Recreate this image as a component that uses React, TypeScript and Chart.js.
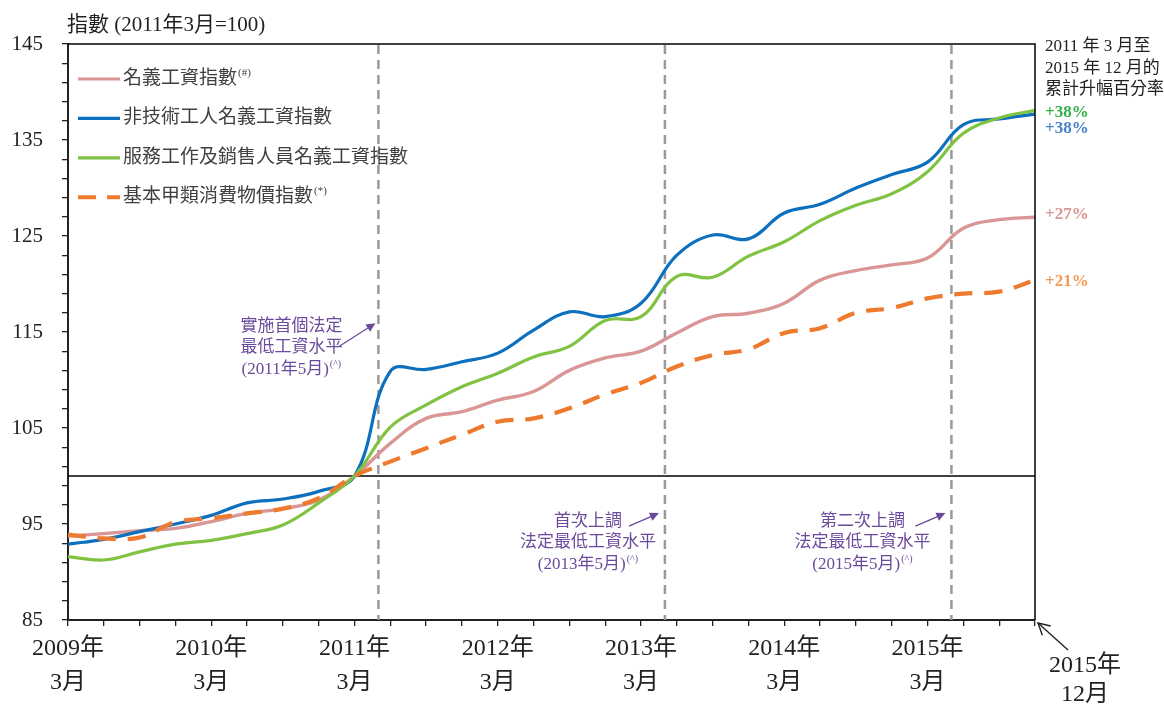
import React, { useEffect, useRef } from "react";
import { Chart, registerables } from "chart.js";

Chart.register(...registerables);

// Quarterly observations, March 2009 .. December 2015
const quarterNames = [
  "2009-03", "2009-06", "2009-09", "2009-12",
  "2010-03", "2010-06", "2010-09", "2010-12",
  "2011-03", "2011-06", "2011-09", "2011-12",
  "2012-03", "2012-06", "2012-09", "2012-12",
  "2013-03", "2013-06", "2013-09", "2013-12",
  "2014-03", "2014-06", "2014-09", "2014-12",
  "2015-03", "2015-06", "2015-09", "2015-12",
];

const nominalWageIndex = [
  93.75, 94.0, 94.3, 94.55, 95.25, 96.1, 96.6, 97.5,
  100, 103.4, 106.0, 106.7, 107.9, 108.8, 111.0, 112.3,
  113.0, 114.9, 116.6, 116.95, 118.0, 120.4, 121.4, 122.0,
  122.7, 125.8, 126.7, 126.95,
];

const elementaryWageIndex = [
  92.9, 93.4, 94.2, 95.0, 95.9, 97.2, 97.6, 98.4,
  100, 110.9, 111.1, 111.9, 112.8, 115.2, 117.1, 116.6,
  118.0, 123.0, 125.1, 124.7, 127.4, 128.3, 130.0, 131.4,
  132.7, 136.6, 137.2, 137.7,
];

const serviceSalesWageIndex = [
  91.6, 91.25, 92.1, 92.9, 93.3, 94.0, 94.9, 97.2,
  100, 105.1, 107.4, 109.3, 110.7, 112.4, 113.5, 116.2,
  116.6, 120.8, 120.7, 122.9, 124.4, 126.6, 128.2, 129.4,
  131.7, 135.7, 137.3, 138.1,
];

const compositeCpiA = [
  93.9, 93.5, 93.6, 95.2, 95.6, 96.1, 96.6, 97.7,
  100, 101.5, 102.9, 104.3, 105.65, 106.0, 107.05, 108.5,
  109.7, 111.4, 112.6, 113.2, 114.9, 115.4, 117.0, 117.5,
  118.5, 119.0, 119.2, 120.4,
];

const seriesNames = [
  "名義工資指數",
  "非技術工人名義工資指數",
  "服務工作及銷售人員名義工資指數",
  "基本甲類消費物價指數",
];
const seriesNotes = ["(#)", "", "", "(*)"];
const cumulativeChange = ["+27%", "+38%", "+38%", "+21%"];

const yearTickLabels = ["2009年", "2010年", "2011年", "2012年", "2013年", "2014年", "2015年"];
const monthTickLabel = "3月";
const endLabel = ["2015年", "12月"];
const titleText = "指數 (2011年3月=100)";
const sideHeader = ["2011 年 3 月至", "2015 年 12 月的", "累計升幅百分率"];

const minWageEvents = ["2011-05", "2013-05", "2015-05"];
const minWageNotes = [
  ["實施首個法定", "最低工資水平", "(2011年5月)"],
  ["首次上調", "法定最低工資水平", "(2013年5月)"],
  ["第二次上調", "法定最低工資水平", "(2015年5月)"],
];

const C_PINK = "#d99694";
const C_BLUE = "#0c70bf";
const C_GREEN = "#80c241";
const C_ORANGE = "#ee7a2d";
const C_PURPLE = "#6b4a9c";

const SERIF = '"Liberation Serif", "Times New Roman", "Noto Sans CJK TC", serif';

function monthToIndex(ym: string) {
  const [y, m] = ym.split("-").map(Number);
  return (y - 2009) * 4 + (m - 3) / 3;
}

function arrow(ctx: CanvasRenderingContext2D, x1: number, y1: number, x2: number, y2: number, color: string, filled: boolean) {
  const ang = Math.atan2(y2 - y1, x2 - x1);
  const hl = filled ? 10 : 13;
  const hw = filled ? 0.45 : 0.5;
  ctx.save();
  ctx.strokeStyle = color;
  ctx.fillStyle = color;
  ctx.lineWidth = filled ? 1.3 : 1.4;
  ctx.setLineDash([]);
  ctx.beginPath();
  ctx.moveTo(x1, y1);
  ctx.lineTo(filled ? x2 - Math.cos(ang) * hl * 0.8 : x2, filled ? y2 - Math.sin(ang) * hl * 0.8 : y2);
  ctx.stroke();
  const ax = x2 - Math.cos(ang - hw) * hl;
  const ay = y2 - Math.sin(ang - hw) * hl;
  const bx = x2 - Math.cos(ang + hw) * hl;
  const by = y2 - Math.sin(ang + hw) * hl;
  ctx.beginPath();
  if (filled) {
    ctx.moveTo(x2, y2);
    ctx.lineTo(ax, ay);
    ctx.lineTo(bx, by);
    ctx.closePath();
    ctx.fill();
  } else {
    ctx.moveTo(ax, ay);
    ctx.lineTo(x2, y2);
    ctx.lineTo(bx, by);
    ctx.stroke();
  }
  ctx.restore();
}

function textWithSup(ctx: CanvasRenderingContext2D, text: string, sup: string, x: number, y: number, size: number, align: "left" | "center") {
  ctx.font = `${size}px ${SERIF}`;
  const w1 = ctx.measureText(text).width;
  ctx.font = `${Math.round(size * 0.58)}px ${SERIF}`;
  const w2 = sup ? ctx.measureText(sup).width + 1 : 0;
  const startX = align === "center" ? x - (w1 + w2) / 2 : x;
  ctx.textAlign = "left";
  ctx.textBaseline = "middle";
  ctx.font = `${size}px ${SERIF}`;
  ctx.fillText(text, startX, y);
  if (sup) {
    ctx.font = `${Math.round(size * 0.58)}px ${SERIF}`;
    ctx.fillText(sup, startX + w1 + 1, y - size * 0.3);
  }
}

const overlayPlugin = {
  id: "overlay",
  beforeDatasetsDraw(chart: any) {
    const { ctx, chartArea, scales } = chart;
    const { left, right, top, bottom } = chartArea;
    const x = scales.x;
    const y = scales.y;
    ctx.save();
    const y100 = y.getPixelForValue(100);
    ctx.strokeStyle = "#000";
    ctx.lineWidth = 1.5;
    ctx.beginPath();
    ctx.moveTo(left, y100);
    ctx.lineTo(right, y100);
    ctx.stroke();
    ctx.strokeStyle = "#9a9a9a";
    ctx.lineWidth = 2.5;
    ctx.setLineDash([9, 6]);
    for (const ev of minWageEvents) {
      const px = x.getPixelForValue(monthToIndex(ev));
      ctx.beginPath();
      ctx.moveTo(px, top + 1);
      ctx.lineTo(px, bottom);
      ctx.stroke();
    }
    ctx.restore();
  },
  afterDraw(chart: any) {
    const { ctx, chartArea, scales } = chart;
    const { left, right, top, bottom } = chartArea;
    const x = scales.x;
    const y = scales.y;
    ctx.save();

    // frame top and right
    ctx.strokeStyle = "#000";
    ctx.lineWidth = 1.5;
    ctx.beginPath();
    ctx.moveTo(left, top);
    ctx.lineTo(right, top);
    ctx.lineTo(right, bottom);
    ctx.stroke();

    // title
    ctx.fillStyle = "#222";
    ctx.font = `21px ${SERIF}`;
    ctx.textAlign = "left";
    ctx.textBaseline = "middle";
    ctx.fillText(titleText, left - 1, top - 19);

    // legend
    const colors = [C_PINK, C_BLUE, C_GREEN, C_ORANGE];
    for (let i = 0; i < 4; i++) {
      const ly = top + 35 + i * 39.4;
      ctx.strokeStyle = colors[i];
      ctx.lineWidth = i === 3 ? 4 : 3.2;
      ctx.setLineDash(i === 3 ? [18, 11] : []);
      ctx.beginPath();
      ctx.moveTo(left + 10, ly);
      ctx.lineTo(left + 52, ly);
      ctx.stroke();
      ctx.setLineDash([]);
      ctx.fillStyle = "#404040";
      textWithSup(ctx, seriesNames[i], seriesNotes[i], left + 55, ly, 19, "left");
    }

    // side header
    ctx.fillStyle = "#222";
    ctx.font = `17px ${SERIF}`;
    ctx.textAlign = "left";
    ctx.textBaseline = "middle";
    sideHeader.forEach((t, i) => ctx.fillText(t, right + 10, top + 3 + i * 21.5));

    // end value labels
    const lastIdx = quarterNames.length - 1;
    const endVals = [nominalWageIndex[lastIdx], elementaryWageIndex[lastIdx], serviceSalesWageIndex[lastIdx], compositeCpiA[lastIdx]];
    const labelColors = ["#d99694", "#4a7fca", "#34b04a", "#f59a55"];
    const offsets = [-3, 15, 2, 1];
    ctx.font = `bold 17px ${SERIF}`;
    const order = [2, 1, 0, 3];
    for (const i of order) {
      ctx.fillStyle = labelColors[i];
      ctx.fillText(cumulativeChange[i], right + 10, y.getPixelForValue(endVals[i]) + offsets[i]);
    }

    // minimum wage annotations
    const noteOffsets = [-87, -77, -89];
    const noteTops = [y.getPixelForValue(115.6), y.getPixelForValue(95.3), y.getPixelForValue(95.3)];
    minWageEvents.forEach((ev, k) => {
      const px = x.getPixelForValue(monthToIndex(ev));
      const cx = px + noteOffsets[k];
      ctx.fillStyle = C_PURPLE;
      const lines = minWageNotes[k];
      for (let j = 0; j < lines.length; j++) {
        const ty = noteTops[k] + j * 21.5;
        textWithSup(ctx, lines[j], j === 2 ? "(^)" : "", cx, ty, 17, "center");
      }
      if (k === 0) {
        arrow(ctx, px - 39, noteTops[k] + 20, px - 3, noteTops[k] - 3, C_PURPLE, true);
      } else {
        arrow(ctx, px - 36, noteTops[k] + 5, px - 6, noteTops[k] - 8, C_PURPLE, true);
      }
    });

    // end-of-axis label with arrow
    ctx.fillStyle = "#222";
    ctx.font = `24px ${SERIF}`;
    ctx.textAlign = "center";
    ctx.textBaseline = "middle";
    ctx.fillText(endLabel[0], right + 50, bottom + 46);
    ctx.fillText(endLabel[1], right + 50, bottom + 75);
    arrow(ctx, right + 33, bottom + 30, right + 3, bottom + 3, "#222", false);

    ctx.restore();
  },
};

export default function App() {
  const canvasRef = useRef<HTMLCanvasElement | null>(null);

  useEffect(() => {
    if (!canvasRef.current) return;
    const toPoints = (arr: number[]) => arr.map((v, i) => ({ x: i, y: v }));
    const chart = new Chart(canvasRef.current, {
      type: "line",
      data: {
        datasets: [
          {
            label: seriesNames[3],
            data: toPoints(compositeCpiA),
            borderColor: C_ORANGE,
            borderWidth: 4.2,
            borderDash: [18, 12],
            pointRadius: 0,
            tension: 0.4,
            order: 0,
          },
          {
            label: seriesNames[1],
            data: toPoints(elementaryWageIndex),
            borderColor: C_BLUE,
            borderWidth: 3.2,
            pointRadius: 0,
            tension: 0.4,
            order: 2,
          },
          {
            label: seriesNames[2],
            data: toPoints(serviceSalesWageIndex),
            borderColor: C_GREEN,
            borderWidth: 3.2,
            pointRadius: 0,
            tension: 0.4,
            order: 1,
          },
          {
            label: seriesNames[0],
            data: toPoints(nominalWageIndex),
            borderColor: C_PINK,
            borderWidth: 3.4,
            pointRadius: 0,
            tension: 0.4,
            order: 3,
          },
        ],
      },
      options: {
        responsive: false,
        animation: false,
        devicePixelRatio: 1,
        layout: { padding: { left: 0, top: 44, right: 129, bottom: 0 } },
        plugins: { legend: { display: false }, tooltip: { enabled: false } },
        scales: {
          x: {
            type: "linear",
            min: 0,
            max: quarterNames.length - 1,
            afterFit: (s: any) => { s.height = 84; },
            afterBuildTicks: (s: any) => {
              s.ticks = quarterNames.map((_, i) => ({ value: i }));
            },
            border: { display: true, color: "#222", width: 2 },
            grid: { display: true, drawOnChartArea: false, drawTicks: true, tickLength: 6, color: "#222", lineWidth: 1.3 },
            ticks: {
              autoSkip: false,
              maxRotation: 0,
              padding: 6,
              color: "#222",
              font: { family: SERIF, size: 24, lineHeight: 1.4 },
              callback: (v: any) => {
                const i = Number(v);
                return i % 4 === 0 && i / 4 < yearTickLabels.length ? [yearTickLabels[i / 4], monthTickLabel] : "";
              },
            },
          },
          y: {
            min: 85,
            max: 145,
            afterFit: (s: any) => { s.width = 68; },
            border: { display: true, color: "#222", width: 2 },
            grid: { display: true, drawOnChartArea: false, drawTicks: true, tickLength: 6, color: "#222", lineWidth: 1.3 },
            ticks: {
              stepSize: 2,
              autoSkip: false,
              padding: 19,
              color: "#222",
              font: { family: SERIF, size: 21 },
              callback: (v: any) => ((Number(v) - 85) % 10 === 0 ? String(v) : ""),
            },
          },
        },
      },
      plugins: [overlayPlugin],
    } as any);
    return () => chart.destroy();
  }, []);

  return (
    <div style={{ position: "absolute", left: 0, top: 0, width: 1164, height: 704, background: "#fff" }}>
      <canvas ref={canvasRef} width={1164} height={704} style={{ display: "block" }} />
    </div>
  );
}
